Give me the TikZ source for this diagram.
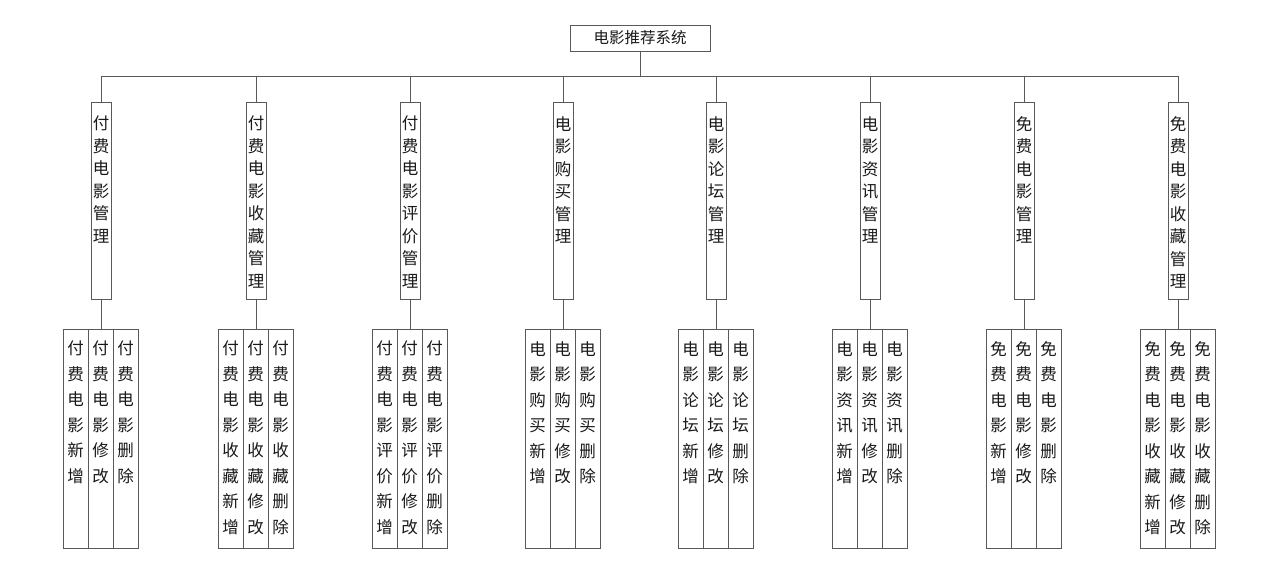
\documentclass[tikz,border=0pt]{standalone}
\usepackage{fontspec}
\newfontfamily\cjk{Noto Sans CJK SC}
\begin{document}
\begin{tikzpicture}[x=1pt,y=-1pt,
  ln/.style={draw=black!65,line width=0.8pt},
  bx/.style={ln,fill=white},
  vt/.style={font=\cjk\fontsize{16.5}{22.5}\selectfont,align=center,inner sep=0pt,anchor=north,text=black!90},
  vc/.style={font=\cjk\fontsize{16.5}{25.5}\selectfont,align=center,inner sep=0pt,anchor=north,text=black!90}]
\useasboundingbox (0,0) rectangle (1280,563);
\node[bx,minimum width=140,minimum height=26,inner sep=0pt,font=\cjk\fontsize{15.5}{18}\selectfont,text=black!90] (root) at (640,38) {电影推荐系统};
\coordinate (hl) at (101,76); \coordinate (hr) at (1178,76);
\draw[ln] (root.south) -- (640,76);
\draw[ln] (hl) -- (hr);
\foreach \i/\cx/\t/\a/\b/\c in {
 1/101/付\\费\\电\\影\\管\\理/付\\费\\电\\影\\新\\增/付\\费\\电\\影\\修\\改/付\\费\\电\\影\\删\\除,
 2/256/付\\费\\电\\影\\收\\藏\\管\\理/付\\费\\电\\影\\收\\藏\\新\\增/付\\费\\电\\影\\收\\藏\\修\\改/付\\费\\电\\影\\收\\藏\\删\\除,
 3/410/付\\费\\电\\影\\评\\价\\管\\理/付\\费\\电\\影\\评\\价\\新\\增/付\\费\\电\\影\\评\\价\\修\\改/付\\费\\电\\影\\评\\价\\删\\除,
 4/563/电\\影\\购\\买\\管\\理/电\\影\\购\\买\\新\\增/电\\影\\购\\买\\修\\改/电\\影\\购\\买\\删\\除,
 5/716/电\\影\\论\\坛\\管\\理/电\\影\\论\\坛\\新\\增/电\\影\\论\\坛\\修\\改/电\\影\\论\\坛\\删\\除,
 6/870/电\\影\\资\\讯\\管\\理/电\\影\\资\\讯\\新\\增/电\\影\\资\\讯\\修\\改/电\\影\\资\\讯\\删\\除,
 7/1024/免\\费\\电\\影\\管\\理/免\\费\\电\\影\\新\\增/免\\费\\电\\影\\修\\改/免\\费\\电\\影\\删\\除,
 8/1178/免\\费\\电\\影\\收\\藏\\管\\理/免\\费\\电\\影\\收\\藏\\新\\增/免\\费\\电\\影\\收\\藏\\修\\改/免\\费\\电\\影\\收\\藏\\删\\除}{
  \coordinate (t\i) at (\cx,76);
  \draw[bx] (\cx-10,102) rectangle (\cx+10,299);
  \coordinate (m\i) at (\cx,102);
  \coordinate (mb\i) at (\cx,299);
  \node[vt] (lab\i) at (\cx,116) {\t};
  \draw[ln] (t\i) -- (m\i);
  \coordinate (c\i) at (\cx,329);
  \draw[ln] (mb\i) -- (c\i);
  \draw[bx] (\cx-38,329) rectangle (\cx-13,548);
  \draw[bx] (\cx-13,329) rectangle (\cx+12,548);
  \draw[bx] (\cx+12,329) rectangle (\cx+37,548);
  \node[vc] (a\i) at (\cx-25.5,341) {\a};
  \node[vc] (b\i) at (\cx-0.5,341) {\b};
  \node[vc] (d\i) at (\cx+24.5,341) {\c};
}
\end{tikzpicture}
\end{document}
